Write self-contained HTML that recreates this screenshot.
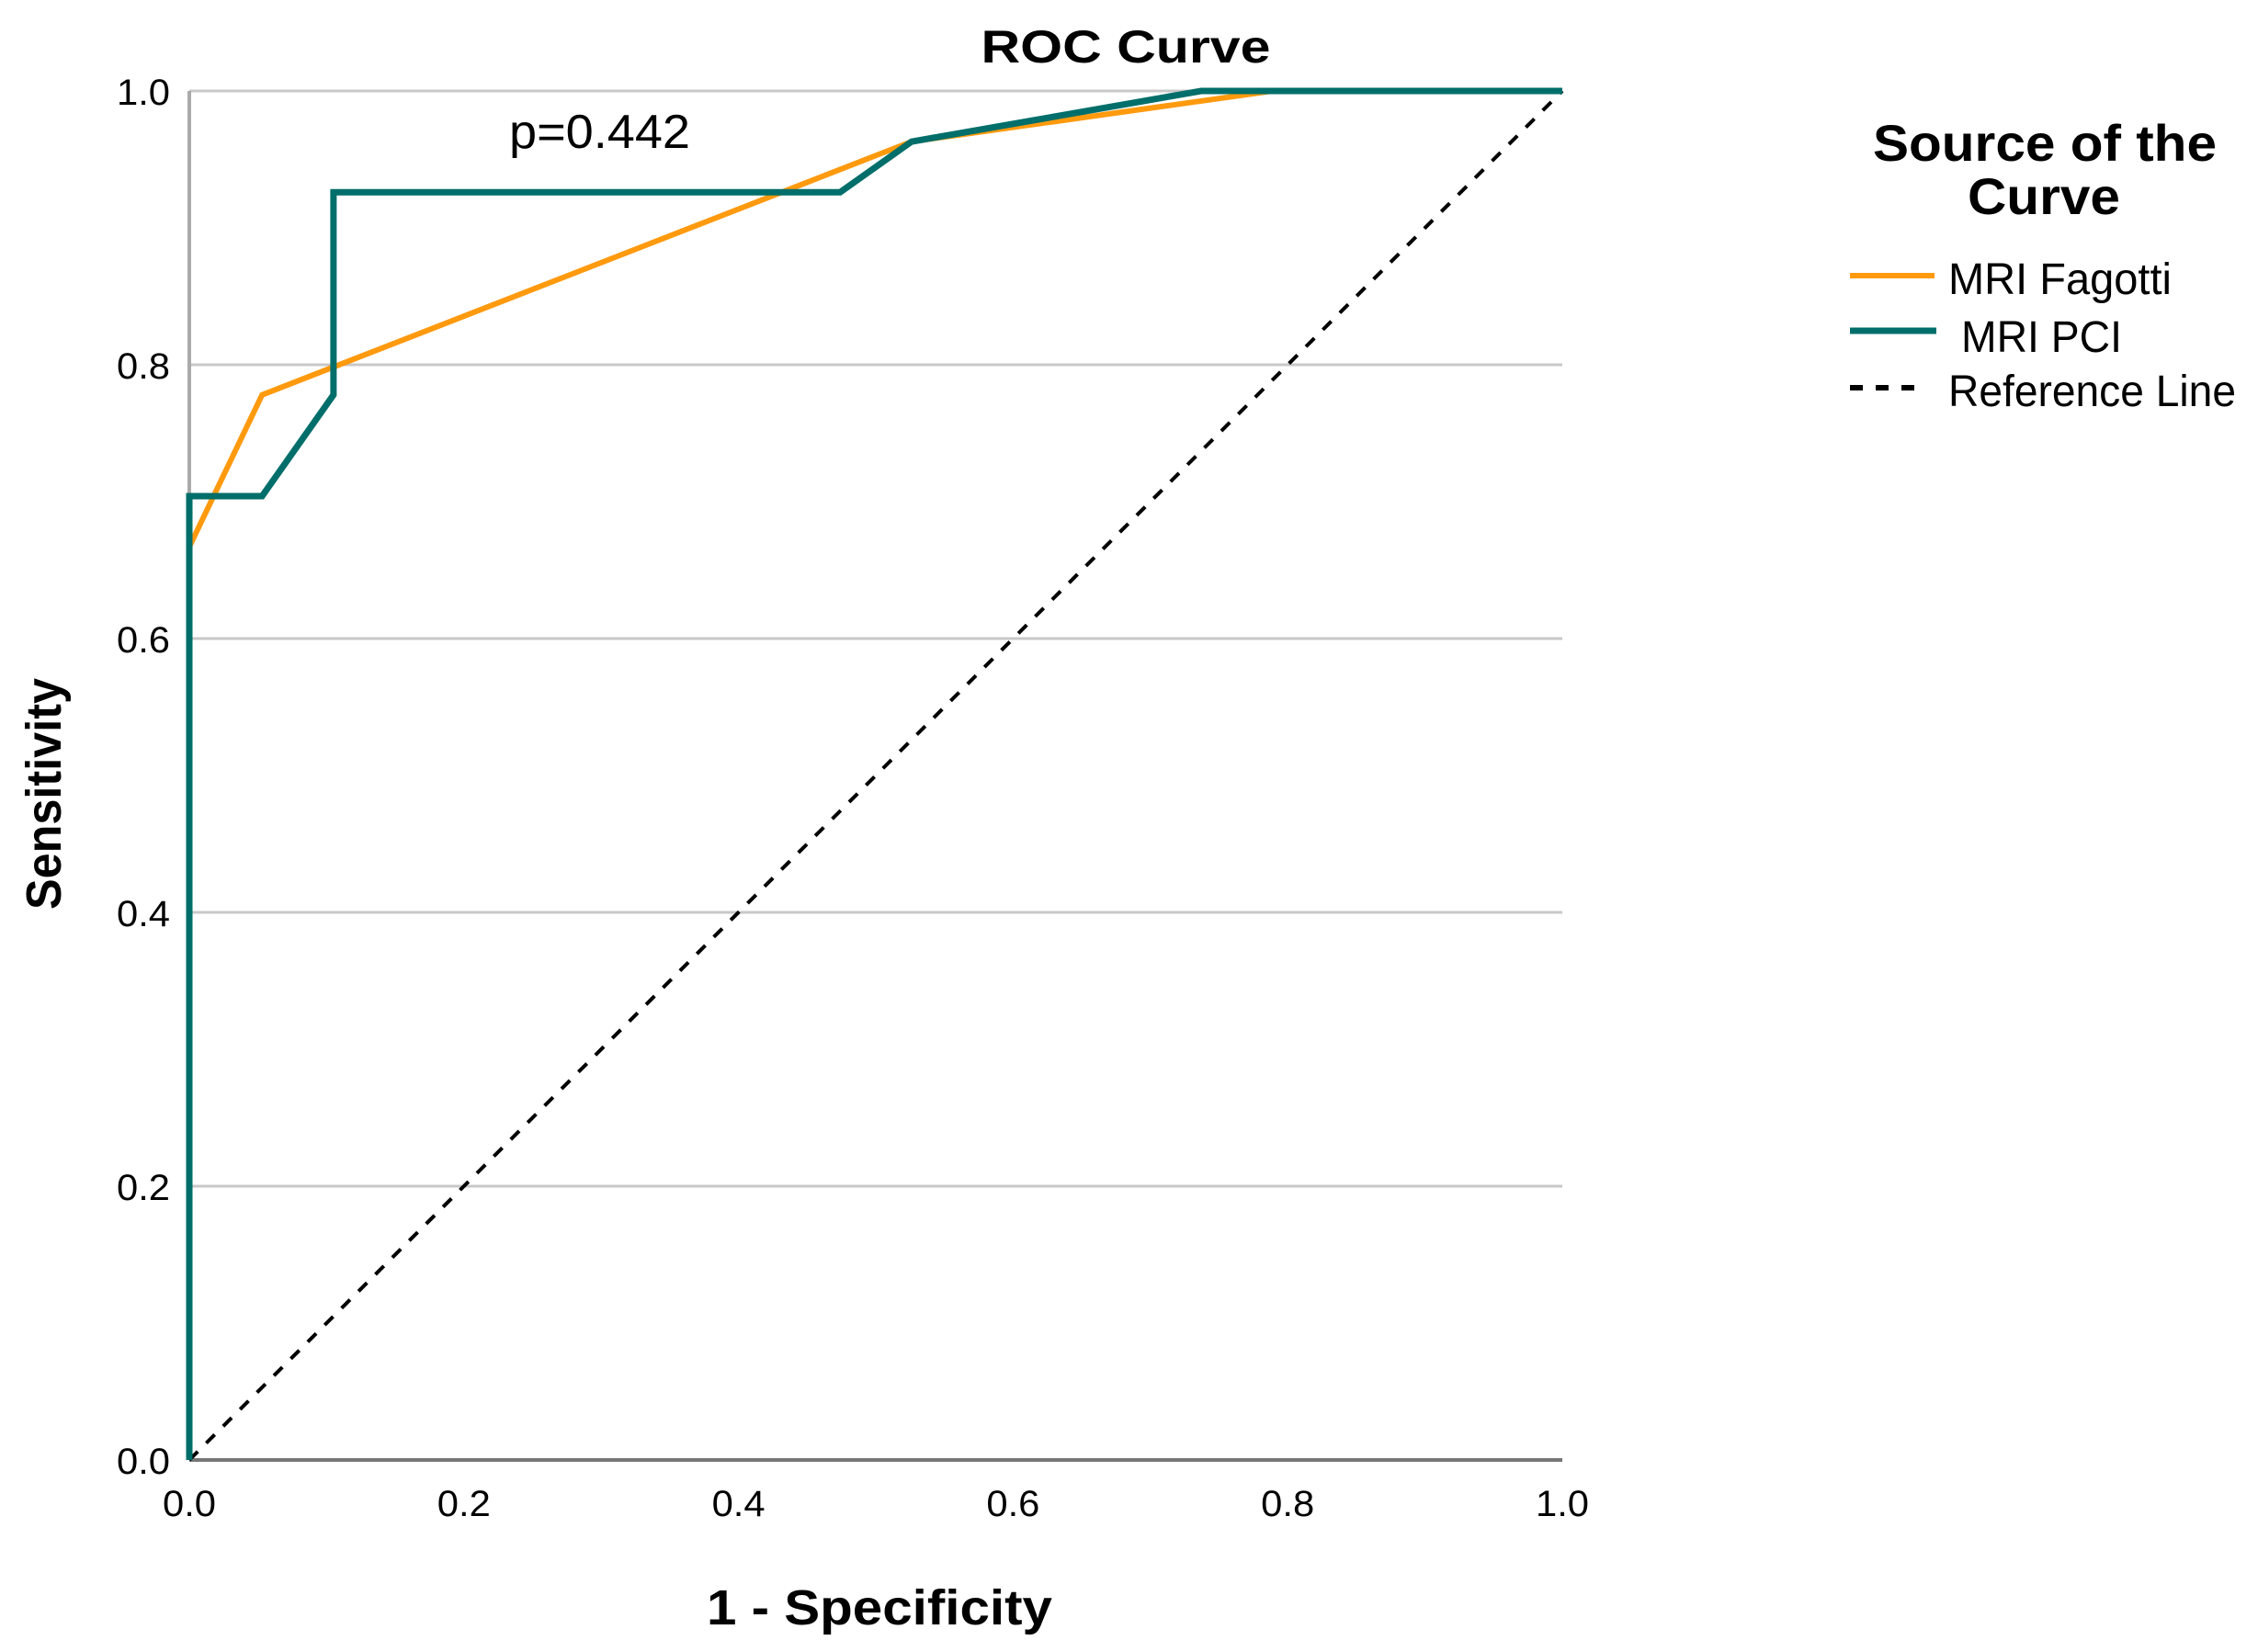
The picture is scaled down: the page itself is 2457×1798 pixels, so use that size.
<!DOCTYPE html>
<html><head><meta charset="utf-8"><style>
html,body{margin:0;padding:0;background:#fff;}
svg{display:block;font-family:"Liberation Sans",Arial,sans-serif;}
</style></head><body>
<svg id="chart" width="2457" height="1798" viewBox="0 0 2457 1798" xmlns="http://www.w3.org/2000/svg">
<g id="grid"></g>
<g id="ticks"></g>
<g id="series"></g>
<text x="1225" y="68" font-size="50" font-weight="bold" text-anchor="middle" textLength="315" lengthAdjust="spacingAndGlyphs">ROC Curve</text>
<text x="554" y="161" font-size="52" textLength="197" lengthAdjust="spacingAndGlyphs">p=0.442</text>
<text x="769" y="1768" font-size="54" font-weight="bold" textLength="376" lengthAdjust="spacingAndGlyphs">1 - Specificity</text>
<text transform="translate(66,990) rotate(-90)" font-size="54" font-weight="bold" textLength="252" lengthAdjust="spacingAndGlyphs">Sensitivity</text>
<g>
<text x="2038" y="175" font-size="56" font-weight="bold" textLength="374" lengthAdjust="spacingAndGlyphs">Source of the</text>
<text x="2141" y="233" font-size="56" font-weight="bold" textLength="166" lengthAdjust="spacingAndGlyphs">Curve</text>
<line x1="2013" y1="300" x2="2105" y2="300" stroke="#ff9a0e" stroke-width="6"/>
<text x="2120" y="320" font-size="48" textLength="243" lengthAdjust="spacingAndGlyphs">MRI Fagotti</text>
<line x1="2013" y1="360" x2="2107" y2="360" stroke="#006e6a" stroke-width="7"/>
<text x="2134" y="383" font-size="48" textLength="175" lengthAdjust="spacingAndGlyphs">MRI PCI</text>
<line x1="2013" y1="422" x2="2097" y2="422" stroke="#000" stroke-width="6" stroke-dasharray="14,14"/>
<text x="2120" y="442" font-size="48" textLength="313" lengthAdjust="spacingAndGlyphs">Reference Line</text>
</g>
</svg>
<script>
const yTicks = [0.0, 0.2, 0.4, 0.6, 0.8, 1.0];
const xTicks = [0.0, 0.2, 0.4, 0.6, 0.8, 1.0];
const tickLabels = ["0.0","0.2","0.4","0.6","0.8","1.0"];
const fagottiX = [0, 0, 0.053, 0.526, 0.789, 1.0];
const fagottiY = [0, 0.667, 0.778, 0.963, 1.0, 1.0];
const pciX = [0, 0, 0.053, 0.105, 0.105, 0.474, 0.526, 0.737, 1.0];
const pciY = [0, 0.704, 0.704, 0.778, 0.926, 0.926, 0.963, 1.0, 1.0];
const refX = [0, 1];
const refY = [0, 1];

const X0 = 206, X1 = 1700, Y0 = 1589, Y1 = 99;
function sx(v){ return X0 + v * (X1 - X0); }
function sy(v){ return Y0 - v * (Y0 - Y1); }
const NS = "http://www.w3.org/2000/svg";
function mk(tag, attrs, parent){
  const e = document.createElementNS(NS, tag);
  for (const k in attrs) e.setAttribute(k, attrs[k]);
  parent.appendChild(e);
  return e;
}
const grid = document.getElementById('grid');
const ticks = document.getElementById('ticks');
const series = document.getElementById('series');

yTicks.forEach((v, i) => {
  if (v > 0) {
    const g = mk('line', {x1: X0, x2: X1, y1: sy(v), y2: sy(v), stroke: '#c8c8c8', 'stroke-width': 3}, grid);
    
    
  }
  const t = mk('text', {x: 185, y: sy(v) + 15, 'font-size': 40, 'text-anchor': 'end', textLength: 58, lengthAdjust: 'spacingAndGlyphs'}, ticks);
  t.textContent = tickLabels[i];
  
  
});
xTicks.forEach((v, i) => {
  const t = mk('text', {x: sx(v), y: 1650, 'font-size': 40, 'text-anchor': 'middle', textLength: 58, lengthAdjust: 'spacingAndGlyphs'}, ticks);
  t.textContent = tickLabels[i];
  
  
});
const ya = mk('line', {x1: X0, x2: X0, y1: Y1, y2: Y0, stroke: '#aaaaaa', 'stroke-width': 4}, grid);


const xa = mk('line', {x1: X0, x2: X1, y1: Y0, y2: Y0, stroke: '#777777', 'stroke-width': 4}, grid);



function pts(xs, ys){ return xs.map((x, i) => sx(x) + ',' + sy(ys[i])).join(' '); }
const ref = mk('polyline', {points: pts(refX, refY), fill: 'none', stroke: '#000', 'stroke-width': 4, 'stroke-dasharray': '13,13'}, series);


const fag = mk('polyline', {points: pts(fagottiX, fagottiY), fill: 'none', stroke: '#ff9a0e', 'stroke-width': 6, 'stroke-linejoin': 'miter'}, series);


const pci = mk('polyline', {points: pts(pciX, pciY), fill: 'none', stroke: '#006e6a', 'stroke-width': 7, 'stroke-linejoin': 'miter'}, series);


</script>
</body></html>
